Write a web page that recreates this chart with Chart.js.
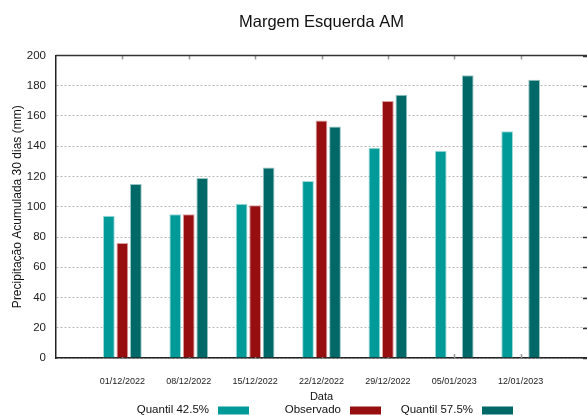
<!DOCTYPE html>
<html>
<head>
<meta charset="utf-8">
<script src="https://cdn.jsdelivr.net/npm/chart.js@4"></script>
<style>
  html, body { margin: 0; padding: 0; background: #fff; }
  #wrap { width: 587px; height: 415px; }
</style>
</head>
<body>
<div id="wrap"><canvas id="chuvaChart" width="587" height="415"></canvas></div>
<script>
const datas = ['01/12/2022', '08/12/2022', '15/12/2022', '22/12/2022', '29/12/2022', '05/01/2023', '12/01/2023'];
const quantil425 = [94, 95, 102, 117, 139, 137, 150];
const observado = [76, 95, 101, 157, 170, null, null];
const quantil575 = [115, 119, 126, 153, 174, 187, 184];
const yTicks = [0, 20, 40, 60, 80, 100, 120, 140, 160, 180, 200];

const fonte = "'Liberation Sans', Arial, sans-serif";

// eixo x com uma posicao vazia em cada ponta
const rotulos = ['', ...datas, ''];
const pad = arr => [null, ...arr, null];

// titulo, legenda (texto antes da caixa) e ticks espelhados
const extras = {
    id: 'extras',
    beforeDatasetsDraw(chart) {
        const { ctx, chartArea: a, scales: { x, y } } = chart;
        ctx.save();
        ctx.strokeStyle = '#999';
        ctx.lineWidth = 1.5;
        datas.forEach((d, i) => {
            const px = Math.round(x.getPixelForValue(i + 1)) + 0.5;
            ctx.beginPath();
            ctx.moveTo(px, a.top); ctx.lineTo(px, a.top + 4);
            ctx.moveTo(px, a.bottom); ctx.lineTo(px, a.bottom - 4);
            ctx.stroke();
        });
        ctx.strokeStyle = '#333';
        yTicks.forEach(v => {
            const py = Math.round(y.getPixelForValue(v)) + 0.5;
            ctx.beginPath();
            ctx.moveTo(a.right - 4, py); ctx.lineTo(a.right, py);
            ctx.stroke();
        });
        ctx.restore();
    },
    afterDraw(chart) {
        const { ctx, chartArea: a } = chart;
        ctx.save();
        ctx.strokeStyle = '#333';
        ctx.lineWidth = 1.5;
        ctx.beginPath();
        ctx.moveTo(a.left, a.top); ctx.lineTo(a.right, a.top);
        ctx.stroke();

        ctx.fillStyle = '#111';
        ctx.font = '16.5px ' + fonte;
        ctx.textAlign = 'center';
        ctx.textBaseline = 'middle';
        ctx.fillText('Margem Esquerda AM', (a.left + a.right) / 2, 22);

        ctx.font = '11.5px ' + fonte;
        ctx.textAlign = 'right';
        chart.data.datasets.forEach((ds, i) => {
            const bx = 218 + i * 132;
            ctx.fillStyle = '#111';
            ctx.fillText(ds.label, bx - 9, 409.5);
            ctx.fillStyle = ds.backgroundColor;
            ctx.fillRect(bx, 406.5, 31, 8);
        });
        ctx.restore();
    }
};

const ctxChuva = document.getElementById('chuvaChart').getContext('2d');
const graficoChuva = new Chart(ctxChuva, {
    type: 'bar',
    data: {
        labels: rotulos,
        datasets: [{
            label: 'Quantil 42.5%',
            data: pad(quantil425),
            backgroundColor: '#009a99',
            borderColor: 'rgba(150, 215, 215, 0.9)',
            borderWidth: 1
        }, {
            label: 'Observado',
            data: pad(observado),
            backgroundColor: '#960e0f',
            borderColor: 'rgba(215, 150, 150, 0.9)',
            borderWidth: 1
        }, {
            label: 'Quantil 57.5%',
            data: pad(quantil575),
            backgroundColor: '#006866',
            borderColor: 'rgba(140, 190, 190, 0.9)',
            borderWidth: 1
        }]
    },
    options: {
        responsive: false,
        animation: false,
        layout: { padding: { top: 55.5, right: 0, left: 0, bottom: 0 } },
        datasets: { bar: { categoryPercentage: 0.61, barPercentage: 0.87 } },
        plugins: {
            legend: { display: false },
            title: { display: false },
            tooltip: { enabled: false }
        },
        scales: {
            x: {
                offset: false,
                grid: { display: false, drawTicks: false },
                border: { display: true, color: '#222', width: 1.5 },
                ticks: { color: '#222', font: { family: fonte, size: 9 }, padding: 18, autoSkip: false, maxRotation: 0 },
                title: { display: true, text: 'Data', color: '#111', font: { family: fonte, size: 11 }, padding: { top: 0, bottom: 11.5 } },
                afterFit: scale => {
                    scale.height = 57;
                    scale.paddingLeft = 0;
                    scale.paddingRight = 0;
                }
            },
            y: {
                min: 0,
                max: 200,
                afterBuildTicks: scale => { scale.ticks = yTicks.map(v => ({ value: v })); },
                grid: { color: '#b8b8b8', lineWidth: 1, drawTicks: false },
                border: { display: true, color: '#222', width: 1.5, dash: [2, 2] },
                ticks: { color: '#222', font: { family: fonte, size: 11.5 }, padding: 10 },
                title: { display: true, text: 'Precipitação Acumulada 30 dias (mm)', color: '#111', font: { family: fonte, size: 12 }, padding: { top: 10, bottom: 0 } },
                afterFit: scale => {
                    scale.width = 56;
                    scale.paddingTop = 0;
                    scale.paddingBottom = 0;
                }
            }
        }
    },
    plugins: [extras]
});
</script>
</body>
</html>
